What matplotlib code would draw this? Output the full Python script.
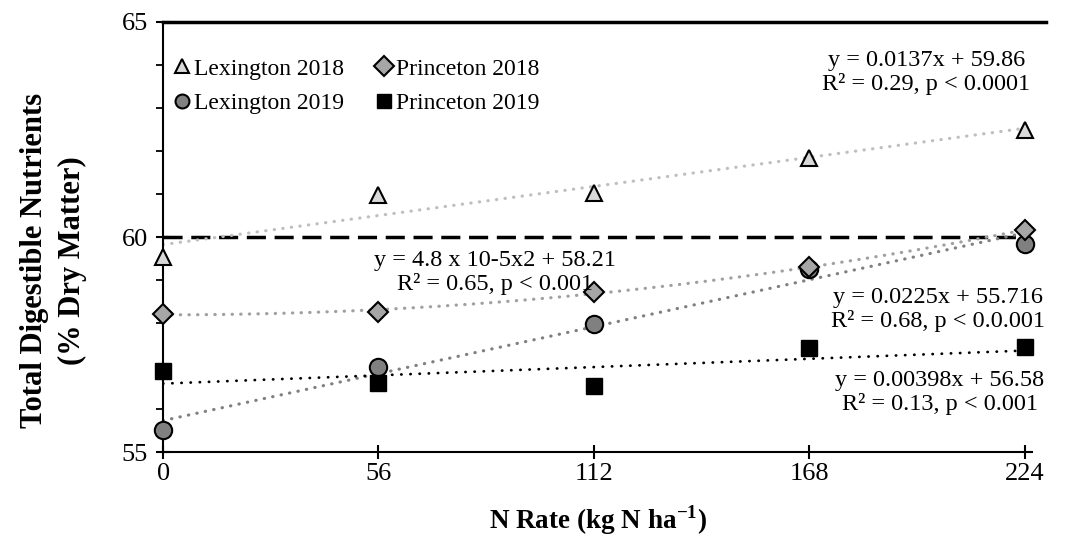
import numpy as np
import matplotlib
matplotlib.use("Agg")
import matplotlib.pyplot as plt
from matplotlib.ticker import MultipleLocator

plt.rcParams['font.family'] = ['Liberation Serif', 'DejaVu Serif']
plt.rcParams['mathtext.fontset'] = 'custom'
plt.rcParams['mathtext.rm'] = 'Liberation Serif'
plt.rcParams['mathtext.bf'] = 'Liberation Serif:bold'

n_rate = [0, 56, 112, 168, 224]
lex2018 = [59.54, 60.98, 61.03, 61.84, 62.49]
pri2018 = [58.21, 58.26, 58.72, 59.30, 60.16]
lex2019 = [55.52, 56.98, 57.98, 59.25, 59.84]
pri2019 = [56.89, 56.60, 56.53, 57.42, 57.44]

eq_lex2018 = ["y = 0.0137x + 59.86", "R² = 0.29, p < 0.0001"]
eq_pri2018 = ["y = 4.8 x 10-5x2 + 58.21", "R² = 0.65, p < 0.001"]
eq_lex2019 = ["y = 0.0225x + 55.716", "R² = 0.68, p < 0.0.001"]
eq_pri2019 = ["y = 0.00398x + 56.58", "R² = 0.13, p < 0.001"]

fig = plt.figure(figsize=(10.73, 5.44), dpi=100)
ax = fig.add_axes([0.152, 0.169, 0.81, 0.7906])

x = np.array(n_rate, dtype=float)
xf = np.linspace(0, 224, 200)

def trend(yv, deg, color, lw, pat):
    c = np.polyfit(x, yv, deg)
    ax.plot(xf, np.polyval(c, xf), color=color, lw=lw, linestyle=(0, pat),
            dash_capstyle='round', zorder=2)

trend(lex2018, 1, '#bfbfbf', 2.3, (0.1, 2.6))
trend(pri2018, 2, '#a0a0a0', 2.3, (0.1, 2.6))
trend(lex2019, 1, '#808080', 2.3, (0.1, 2.6))
trend(pri2019, 1, '#000000', 2.0, (0.1, 3.2))

ax.axhline(60, xmin=0, xmax=224/226, color='black', lw=2.5, linestyle=(0, (5.5, 2.5)), zorder=1)
ax.axhline(65, xmin=0, xmax=1.016, color='black', lw=2.5, clip_on=False, zorder=1)

ax.plot(x, lex2018, linestyle='none', marker='^', ms=12, mfc='#d9d9d9', mec='black', mew=1.5,
        label='Lexington 2018', zorder=4, clip_on=False)
ax.plot(x, lex2019, linestyle='none', marker='o', ms=12.5, mfc='#808080', mec='black', mew=1.5,
        label='Lexington 2019', zorder=4, clip_on=False)
ax.plot(x, pri2018, linestyle='none', marker='D', ms=10, mfc='#a6a6a6', mec='black', mew=1.5,
        label='Princeton 2018', zorder=4, clip_on=False)
ax.plot(x, pri2019, linestyle='none', marker='s', ms=11.5, mfc='black', mec='black', mew=1.0,
        label='Princeton 2019', zorder=4, clip_on=False)

ax.set_xlim(0, 226)
ax.set_ylim(55, 65)
ax.set_xticks(n_rate)
ax.set_yticks([55, 60, 65])
ax.yaxis.set_minor_locator(MultipleLocator(1))
ax.tick_params(axis='both', which='major', direction='inout', length=10, width=1.5,
               labelsize=19, pad=6)
ax.tick_params(axis='y', which='minor', direction='out', length=5, width=1.3)
ax.tick_params(axis='x', which='major', pad=3)

for s in ['top', 'right']:
    ax.spines[s].set_visible(False)
for s in ['left', 'bottom']:
    ax.spines[s].set_linewidth(1.5)

ax.set_ylabel('Total Digestible Nutrients\n(% Dry Matter)', fontsize=22, fontweight='bold',
              linespacing=1.4, va='center')
ax.yaxis.set_label_coords(-0.126, 0.445)
ax.set_xlabel(r'N Rate (kg N ha$^{\mathbf{-1}}$)', fontsize=19.5, fontweight='bold', labelpad=13)

leg = ax.legend(loc='upper left', bbox_to_anchor=(0.0, 0.938), ncol=2, frameon=False,
                fontsize=17, handletextpad=0.1, columnspacing=1.3, labelspacing=0.55,
                handlelength=0.8, borderaxespad=0.0)
for h in leg.legend_handles:
    h.set_markersize(10)

def eq(px, py, lines, fs=17.5):
    ax.text(px, py, "\n".join(lines), transform=ax.transData, ha='center', va='center',
            fontsize=fs, linespacing=1.13, zorder=5)

eq(198.5, 63.82, eq_lex2018)
eq(86.4, 59.18, eq_pri2018)
eq(201.6, 58.32, eq_lex2019)
eq(202.0, 56.39, eq_pri2019)

fig.savefig('out.png', dpi=100)
